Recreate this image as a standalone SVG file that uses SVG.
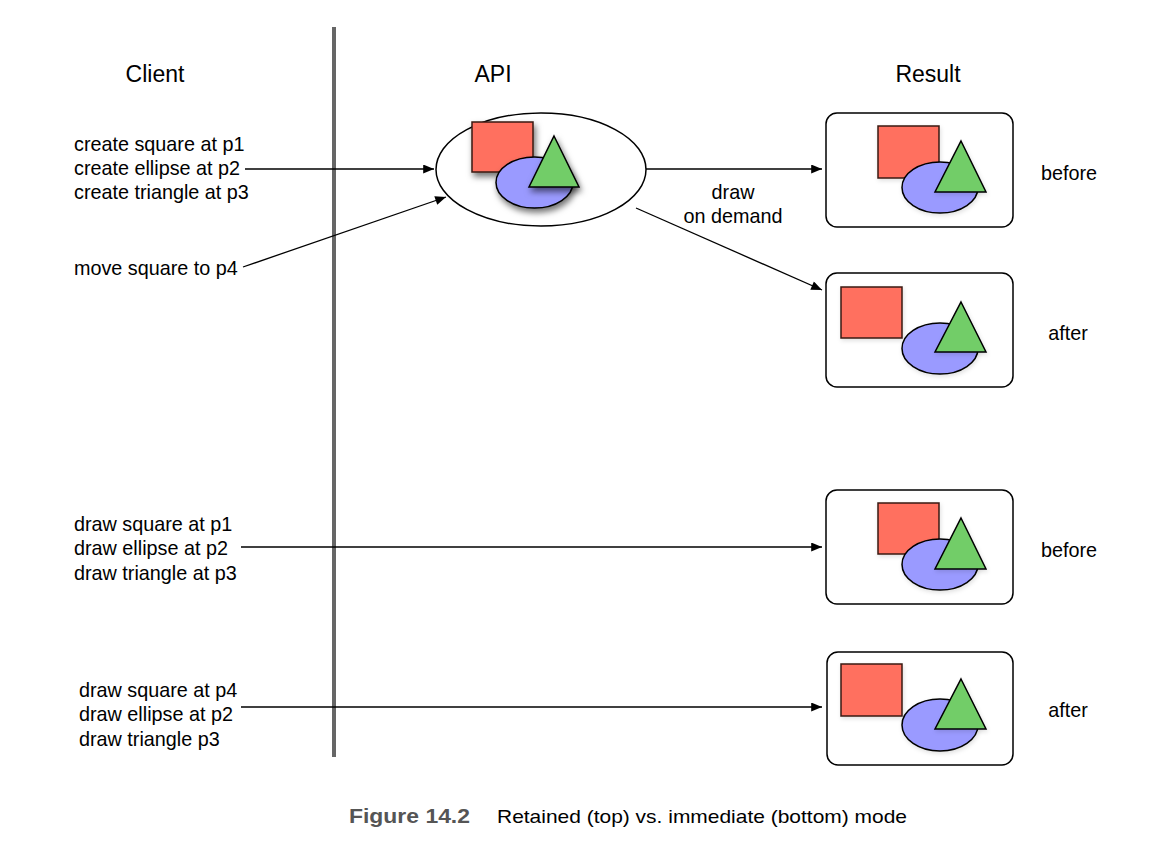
<svg xmlns="http://www.w3.org/2000/svg" width="1163" height="853" viewBox="0 0 1163 853">
<style>
text{font-family:"Liberation Sans",Arial,sans-serif;fill:#000}
.h{font-size:23px}
.t{font-size:19.8px}
.conn line{stroke:#000;stroke-width:1.3;marker-end:url(#ah)}
.box{fill:#fff;stroke:#000;stroke-width:1.5}
.sq{fill:#ff6f5f;stroke:#3a1a14;stroke-width:1.5}
.el{fill:#9a9aff;stroke:#000;stroke-width:1.5}
.tr{fill:#72cd68;stroke:#000;stroke-width:1.5;stroke-linejoin:miter}
</style>
<defs>
<marker id="ah" viewBox="0 0 12 10" refX="12" refY="5" markerWidth="12" markerHeight="9" markerUnits="userSpaceOnUse" orient="auto"><path d="M0,0L12,5L0,10z" fill="#000"/></marker>
<filter id="sh" x="-30%" y="-30%" width="160%" height="160%"><feDropShadow dx="2" dy="4" stdDeviation="3" flood-color="#000" flood-opacity="0.55"/></filter>
<filter id="sh2" x="-30%" y="-30%" width="160%" height="160%"><feDropShadow dx="1" dy="2" stdDeviation="2" flood-color="#000" flood-opacity="0.12"/></filter>
</defs>
<rect width="1163" height="853" fill="#fff"/>
<line x1="334" y1="27" x2="334" y2="757" stroke="#666" stroke-width="4"/>
<text class="h" x="155" y="82" text-anchor="middle">Client</text>
<text class="h" x="493" y="82" text-anchor="middle">API</text>
<text class="h" x="928" y="82" text-anchor="middle">Result</text>

<g id="client-retained">
<text class="t" x="74" y="151">create square at p1</text>
<text class="t" x="74" y="175">create ellipse at p2</text>
<text class="t" x="74" y="199">create triangle at p3</text>
<text class="t" x="74" y="275">move square to p4</text>
</g>

<g id="api">
<ellipse cx="541" cy="169.5" rx="105" ry="56.5" fill="#fff" stroke="#000" stroke-width="1.5"/>
<rect class="sq" x="472" y="122" width="61" height="50" filter="url(#sh)"/>
<ellipse class="el" cx="534.5" cy="182.5" rx="38.5" ry="25.5" filter="url(#sh)"/>
<polygon class="tr" points="554,136 579,187 529,187" filter="url(#sh)"/>
</g>

<g id="result-before-1">
<rect class="box" x="826" y="113" width="187" height="114" rx="11"/>
<rect class="sq" x="878" y="126" width="61" height="52" filter="url(#sh2)"/>
<ellipse class="el" cx="940" cy="187.5" rx="38" ry="25.5" filter="url(#sh2)"/>
<polygon class="tr" points="961,141 986,192 935,192" filter="url(#sh2)"/>
<text class="t" x="1069" y="180" text-anchor="middle">before</text>
</g>

<g id="result-after-1">
<rect class="box" x="826" y="273" width="187" height="114" rx="11"/>
<rect class="sq" x="841" y="287" width="61" height="51" filter="url(#sh2)"/>
<ellipse class="el" cx="940" cy="348.5" rx="38" ry="25.5" filter="url(#sh2)"/>
<polygon class="tr" points="961,302 986,352 935,352" filter="url(#sh2)"/>
<text class="t" x="1068" y="340" text-anchor="middle">after</text>
</g>

<g id="client-immediate">
<text class="t" x="74" y="531">draw square at p1</text>
<text class="t" x="74" y="555">draw ellipse at p2</text>
<text class="t" x="74" y="580">draw triangle at p3</text>
<text class="t" x="79" y="697">draw square at p4</text>
<text class="t" x="79" y="721">draw ellipse at p2</text>
<text class="t" x="79" y="746">draw triangle p3</text>
</g>

<g id="result-before-2">
<rect class="box" x="826" y="490" width="187" height="114" rx="11"/>
<rect class="sq" x="878" y="503" width="61" height="51" filter="url(#sh2)"/>
<ellipse class="el" cx="940" cy="564.5" rx="38" ry="25.5" filter="url(#sh2)"/>
<polygon class="tr" points="961,518 986,569 935,569" filter="url(#sh2)"/>
<text class="t" x="1069" y="557" text-anchor="middle">before</text>
</g>

<g id="result-after-2">
<rect class="box" x="827" y="652" width="186" height="113" rx="11"/>
<rect class="sq" x="841" y="664" width="61" height="52" filter="url(#sh2)"/>
<ellipse class="el" cx="940" cy="725" rx="38" ry="26" filter="url(#sh2)"/>
<polygon class="tr" points="961,679 986,729 935,729" filter="url(#sh2)"/>
<text class="t" x="1068" y="717" text-anchor="middle">after</text>
</g>

<g id="connectors" class="conn">
<line x1="245" y1="169" x2="434" y2="169"/>
<line x1="243" y1="267" x2="446" y2="197"/>
<line x1="646" y1="169" x2="822" y2="169"/>
<line x1="636" y1="208" x2="822" y2="290"/>
<line x1="241" y1="547" x2="822" y2="547"/>
<line x1="241" y1="707" x2="822" y2="707"/>
</g>
<g id="connector-label">
<text class="t" x="733" y="199" text-anchor="middle">draw</text>
<text class="t" x="733" y="223" text-anchor="middle">on demand</text>
</g>

<g id="caption">
<text x="349" y="823" font-size="20" font-weight="bold" fill="#555" style="fill:#555" textLength="121" lengthAdjust="spacingAndGlyphs">Figure 14.2</text>
<text x="497" y="823" font-size="19" textLength="410" lengthAdjust="spacingAndGlyphs">Retained (top) vs. immediate (bottom) mode</text>
</g>
</svg>
